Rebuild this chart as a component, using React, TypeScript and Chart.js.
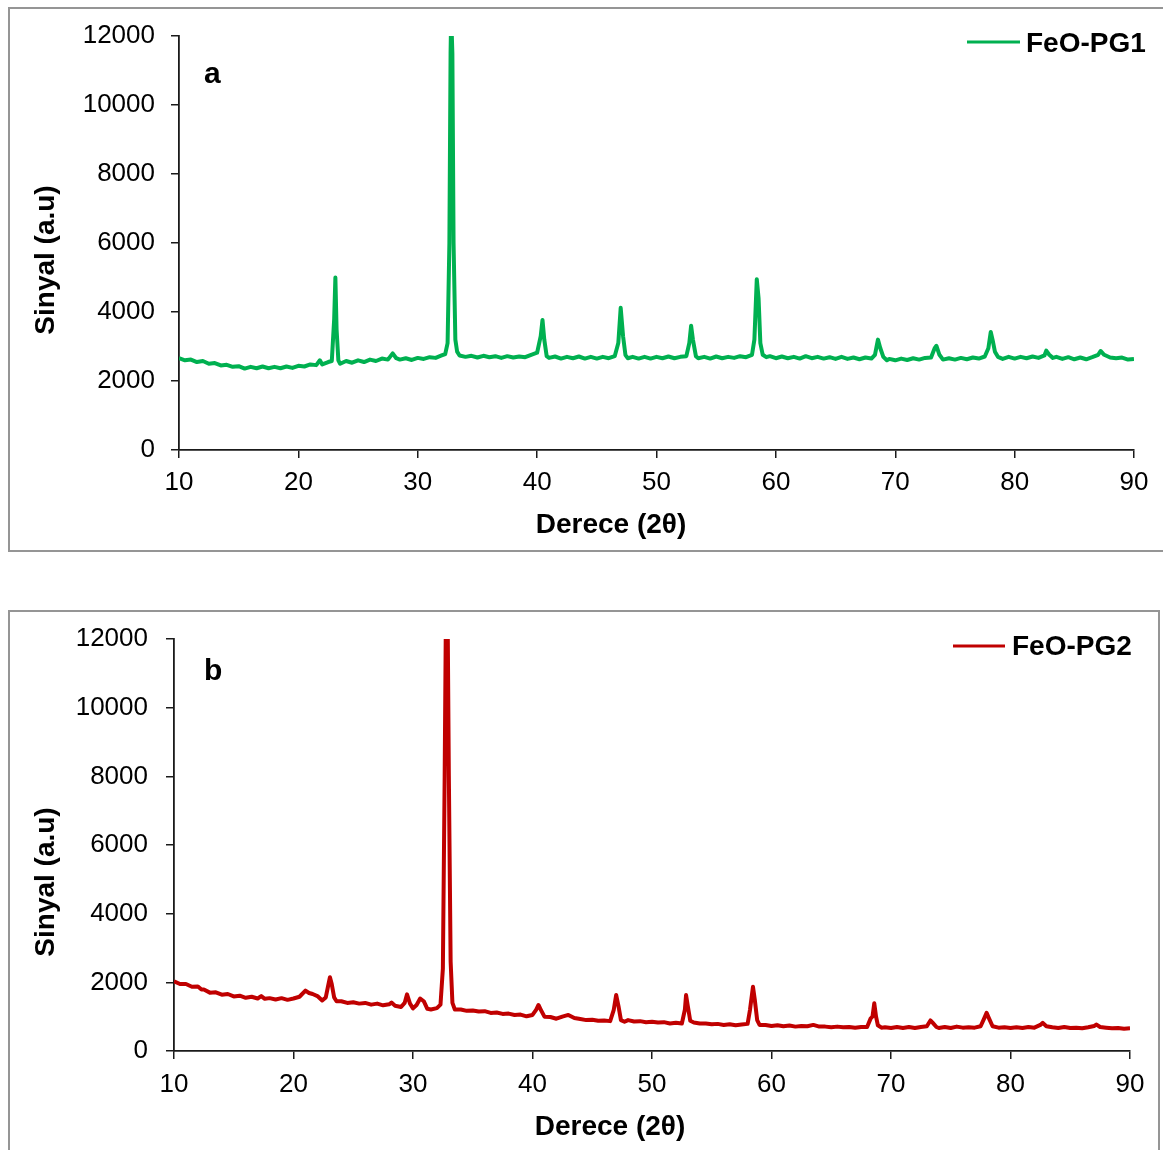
import React, { useEffect, useRef } from "react";
import { Chart, registerables } from "chart.js";

Chart.register(...registerables);

// ---------- data ----------
const panelLetters = ["a", "b"];
const seriesNames = ["FeO-PG1", "FeO-PG2"];
const seriesColors = ["#00B050", "#C00000"];
const xAxisTitle = "Derece (2θ)";
const yAxisTitle = "Sinyal (a.u)";
const xRange = [10, 90];
const xStep = 10;
const yRange = [0, 12000];
const yStep = 2000;

// [2θ, signal]
const pg1Scan: number[][] = [
  [10, 2660], [10.5, 2600], [11, 2620], [11.5, 2550], [12, 2580], [12.5, 2500], [13, 2520], [13.5, 2450],
  [14, 2470], [14.5, 2410], [15, 2430], [15.5, 2360], [16, 2410], [16.5, 2370], [17, 2420], [17.5, 2370],
  [18, 2410], [18.5, 2370], [19, 2420], [19.5, 2380], [20, 2440], [20.5, 2420], [21, 2480], [21.5, 2460],
  [21.8, 2600], [22, 2480], [22.5, 2550], [22.8, 2580], [23.0, 3800], [23.1, 5000], [23.2, 3500], [23.35, 2600],
  [23.5, 2500], [24, 2580], [24.5, 2530], [25, 2600], [25.5, 2550], [26, 2620], [26.5, 2580], [27, 2650],
  [27.5, 2620], [27.9, 2800], [28.2, 2660], [28.5, 2620], [29, 2660], [29.5, 2610], [30, 2670], [30.5, 2640],
  [31, 2690], [31.5, 2670], [32, 2740], [32.3, 2780], [32.5, 3100], [32.65, 6000], [32.75, 11500], [32.8, 12600],
  [32.9, 11500], [33.0, 6000], [33.15, 3200], [33.3, 2850], [33.5, 2740], [34, 2700], [34.5, 2730], [35, 2680],
  [35.5, 2730], [36, 2690], [36.5, 2720], [37, 2670], [37.5, 2720], [38, 2680], [38.5, 2710], [39, 2690],
  [39.5, 2760], [40, 2820], [40.3, 3300], [40.45, 3770], [40.6, 3200], [40.8, 2720], [41, 2670], [41.5, 2710],
  [42, 2650], [42.5, 2700], [43, 2660], [43.5, 2710], [44, 2650], [44.5, 2700], [45, 2650], [45.5, 2700],
  [46, 2660], [46.5, 2720], [46.8, 3100], [47.0, 4120], [47.2, 3300], [47.4, 2750], [47.6, 2660], [48, 2700],
  [48.5, 2650], [49, 2700], [49.5, 2650], [50, 2700], [50.5, 2660], [51, 2710], [51.5, 2660], [52, 2700],
  [52.5, 2720], [52.75, 3100], [52.9, 3600], [53.05, 3200], [53.3, 2720], [53.5, 2660], [54, 2700], [54.5, 2650],
  [55, 2710], [55.5, 2660], [56, 2700], [56.5, 2670], [57, 2720], [57.5, 2690], [58, 2760], [58.2, 3200],
  [58.4, 4950], [58.55, 4400], [58.7, 3100], [58.9, 2760], [59.2, 2690], [59.5, 2720], [60, 2660], [60.5, 2710],
  [61, 2660], [61.5, 2700], [62, 2650], [62.5, 2720], [63, 2660], [63.5, 2700], [64, 2650], [64.5, 2690],
  [65, 2640], [65.5, 2700], [66, 2640], [66.5, 2680], [67, 2630], [67.5, 2680], [68, 2650], [68.3, 2760],
  [68.55, 3200], [68.75, 2950], [69, 2700], [69.3, 2600], [69.5, 2640], [70, 2600], [70.5, 2650], [71, 2610],
  [71.5, 2660], [72, 2620], [72.5, 2670], [73, 2680], [73.3, 2950], [73.45, 3020], [73.7, 2760], [74, 2620],
  [74.5, 2660], [75, 2620], [75.5, 2670], [76, 2630], [76.5, 2680], [77, 2650], [77.5, 2710], [77.8, 2950],
  [78.0, 3420], [78.15, 3200], [78.35, 2850], [78.6, 2700], [79, 2640], [79.5, 2700], [80, 2650], [80.5, 2700],
  [81, 2660], [81.5, 2710], [82, 2670], [82.5, 2740], [82.65, 2880], [82.9, 2760], [83.2, 2670], [83.5, 2700],
  [84, 2640], [84.5, 2690], [85, 2630], [85.5, 2680], [86, 2630], [86.5, 2690], [87, 2760], [87.2, 2870],
  [87.5, 2760], [88, 2680], [88.5, 2660], [89, 2680], [89.5, 2620], [90, 2640],
];

const pg2Scan: number[][] = [
  [10, 2030], [10.5, 1950], [11, 1950], [11.5, 1870], [12, 1880], [12.3, 1790], [12.5, 1790], [13, 1700],
  [13.5, 1710], [14, 1640], [14.5, 1660], [15, 1590], [15.5, 1610], [16, 1550], [16.5, 1580], [17, 1530],
  [17.3, 1600], [17.6, 1520], [18, 1540], [18.5, 1500], [19, 1540], [19.5, 1490], [20, 1530], [20.5, 1580],
  [21, 1760], [21.3, 1690], [21.6, 1660], [22, 1600], [22.4, 1470], [22.7, 1560], [22.9, 1900], [23.05, 2150],
  [23.2, 1950], [23.4, 1560], [23.6, 1450], [24, 1450], [24.5, 1400], [25, 1420], [25.5, 1380], [26, 1400],
  [26.5, 1350], [27, 1380], [27.5, 1330], [28, 1360], [28.2, 1410], [28.5, 1320], [29, 1280], [29.3, 1400],
  [29.5, 1650], [29.75, 1380], [30, 1240], [30.3, 1340], [30.6, 1530], [30.9, 1450], [31.2, 1230], [31.5, 1210],
  [32, 1250], [32.3, 1350], [32.5, 2400], [32.65, 8000], [32.75, 12600], [32.9, 12600], [33.0, 8000], [33.15, 2600],
  [33.3, 1400], [33.5, 1210], [34, 1210], [34.5, 1170], [35, 1180], [35.5, 1150], [36, 1160], [36.5, 1110],
  [37, 1120], [37.5, 1080], [38, 1090], [38.5, 1050], [39, 1060], [39.5, 1010], [40, 1050], [40.3, 1200],
  [40.5, 1340], [40.7, 1200], [41, 1000], [41.5, 990], [42, 940], [42.5, 1000], [43, 1050], [43.5, 960],
  [44, 930], [44.5, 900], [45, 910], [45.5, 880], [46, 890], [46.5, 870], [46.8, 1200], [47.0, 1630],
  [47.2, 1300], [47.4, 900], [47.7, 850], [48, 900], [48.5, 860], [49, 870], [49.5, 840], [50, 850],
  [50.5, 830], [51, 840], [51.5, 800], [52, 820], [52.5, 800], [52.75, 1200], [52.85, 1630], [53.0, 1300],
  [53.2, 880], [53.5, 830], [54, 800], [54.5, 800], [55, 780], [55.5, 790], [56, 760], [56.5, 780],
  [57, 750], [57.5, 770], [58, 790], [58.2, 1200], [58.45, 1870], [58.6, 1500], [58.8, 900], [59, 760],
  [59.5, 760], [60, 730], [60.5, 750], [61, 720], [61.5, 740], [62, 710], [62.5, 730], [63, 720],
  [63.5, 760], [64, 710], [64.5, 710], [65, 690], [65.5, 710], [66, 690], [66.5, 700], [67, 680],
  [67.5, 700], [68, 700], [68.3, 950], [68.45, 1000], [68.6, 1390], [68.75, 1000], [68.9, 750], [69.2, 680],
  [69.5, 690], [70, 670], [70.5, 700], [71, 670], [71.5, 700], [72, 670], [72.5, 700], [73, 720],
  [73.3, 890], [73.5, 820], [73.8, 700], [74, 670], [74.5, 700], [75, 670], [75.5, 710], [76, 680],
  [76.5, 690], [77, 680], [77.5, 720], [77.8, 950], [78.0, 1110], [78.2, 950], [78.5, 720], [79, 680],
  [79.5, 690], [80, 670], [80.5, 690], [81, 670], [81.5, 700], [82, 680], [82.5, 760], [82.7, 820],
  [83, 720], [83.5, 690], [84, 670], [84.5, 700], [85, 670], [85.5, 680], [86, 660], [86.5, 690],
  [87, 730], [87.2, 770], [87.5, 700], [88, 680], [88.5, 660], [89, 670], [89.5, 650], [90, 660],
];

const scans = [pg1Scan, pg2Scan];

// ---------- layout ----------
const FONT = '"Liberation Sans", Arial, Helvetica, sans-serif';

type PanelLayout = {
  canvasTop: number;
  canvasHeight: number;
  areaLeft: number;
  areaRight: number;
  areaTop: number;
  areaBottom: number;
  yLabelPad: number;
  xLabelPad: number;
  letterX: number;
  letterY: number;
  legLineX1: number;
  legLineX2: number;
  legLineY: number;
  legTextX: number;
  legTextY: number;
  xTitleX: number;
  xTitleY: number;
  yTitleX: number;
  yTitleY: number;
};

const layouts: PanelLayout[] = [
  {
    canvasTop: 0, canvasHeight: 590,
    areaLeft: 179, areaRight: 1134, areaTop: 36, areaBottom: 450,
    yLabelPad: 16, xLabelPad: 9,
    letterX: 204, letterY: 83,
    legLineX1: 967, legLineX2: 1020, legLineY: 42, legTextX: 1026, legTextY: 52,
    xTitleX: 611, xTitleY: 533, yTitleX: 54, yTitleY: 260,
  },
  {
    canvasTop: 590, canvasHeight: 560,
    areaLeft: 174, areaRight: 1130, areaTop: 49, areaBottom: 461,
    yLabelPad: 18, xLabelPad: 10,
    letterX: 204, letterY: 90,
    legLineX1: 953, legLineX2: 1005, legLineY: 56, legTextX: 1012, legTextY: 65,
    xTitleX: 610, xTitleY: 545, yTitleX: 54, yTitleY: 292,
  },
];

const annotatePlugin = {
  id: "annotate",
  afterDraw(chart: any, _args: any, opts: any) {
    const ctx = chart.ctx as CanvasRenderingContext2D;
    const L: PanelLayout = opts.layout;
    ctx.save();
    ctx.fillStyle = "#000";
    ctx.textAlign = "left";
    ctx.textBaseline = "alphabetic";
    ctx.font = `bold 30px ${FONT}`;
    ctx.fillText(opts.letter, L.letterX, L.letterY);

    ctx.strokeStyle = opts.color;
    ctx.lineWidth = 3;
    ctx.beginPath();
    ctx.moveTo(L.legLineX1, L.legLineY);
    ctx.lineTo(L.legLineX2, L.legLineY);
    ctx.stroke();
    ctx.font = `bold 28px ${FONT}`;
    ctx.fillText(opts.name, L.legTextX, L.legTextY);

    ctx.font = `bold 28px ${FONT}`;
    ctx.textAlign = "center";
    ctx.fillText(xAxisTitle, L.xTitleX, L.xTitleY);

    ctx.translate(L.yTitleX, L.yTitleY);
    ctx.rotate(-Math.PI / 2);
    ctx.fillText(yAxisTitle, 0, 0);
    ctx.restore();
  },
};

function Panel({ index }: { index: number }) {
  const ref = useRef<HTMLCanvasElement | null>(null);
  const L = layouts[index];

  useEffect(() => {
    if (!ref.current) return;
    const points = scans[index].map((p) => ({ x: p[0], y: p[1] }));
    const axisColor = "#1a1a1a";
    const chart = new Chart(ref.current, {
      type: "line",
      data: {
        datasets: [
          {
            label: seriesNames[index],
            data: points,
            borderColor: seriesColors[index],
            backgroundColor: seriesColors[index],
            borderWidth: 4,
            pointRadius: 0,
            tension: 0,
            borderJoinStyle: "round",
          },
        ],
      },
      options: {
        animation: false,
        responsive: false,
        devicePixelRatio: 1,
        layout: {
          padding: {
            left: 0,
            top: L.areaTop,
            right: 1163 - L.areaRight,
            bottom: 0,
          },
        },
        plugins: {
          legend: { display: false },
          tooltip: { enabled: false },
          annotate: {
            layout: L,
            letter: panelLetters[index],
            name: seriesNames[index],
            color: seriesColors[index],
          },
        } as any,
        scales: {
          x: {
            type: "linear",
            min: xRange[0],
            max: xRange[1],
            afterFit: (s: any) => {
              s.height = L.canvasHeight - L.areaBottom;
            },
            ticks: {
              stepSize: xStep,
              color: "#000",
              padding: L.xLabelPad,
              font: { family: FONT, size: 26 },
              maxRotation: 0,
              callback: (v: any) => String(v),
            },
            grid: {
              drawOnChartArea: false,
              drawTicks: true,
              tickLength: 8,
              color: axisColor,
              lineWidth: 1.5,
            },
            border: { display: true, color: axisColor, width: 1.8 },
          },
          y: {
            type: "linear",
            min: yRange[0],
            max: yRange[1],
            afterFit: (s: any) => {
              s.width = L.areaLeft;
            },
            ticks: {
              stepSize: yStep,
              color: "#000",
              padding: L.yLabelPad,
              font: { family: FONT, size: 26 },
              callback: (v: any) => String(v),
            },
            grid: {
              drawOnChartArea: false,
              drawTicks: true,
              tickLength: 8,
              color: axisColor,
              lineWidth: 1.5,
            },
            border: { display: true, color: axisColor, width: 1.8 },
          },
        },
      },
      plugins: [annotatePlugin],
    });
    return () => chart.destroy();
  }, [index]);

  return (
    <canvas
      ref={ref}
      width={1163}
      height={L.canvasHeight}
      style={{
        position: "absolute",
        left: 0,
        top: L.canvasTop,
        width: 1163,
        height: L.canvasHeight,
      }}
    />
  );
}

export default function App() {
  const borderStyle = "2px solid #959595";
  return (
    <div
      style={{
        position: "absolute",
        left: 0,
        top: 0,
        width: 1163,
        height: 1150,
        overflow: "hidden",
        background: "#fff",
      }}
    >
      <div
        style={{
          position: "absolute",
          left: 8,
          top: 7,
          width: 1170,
          height: 545,
          border: borderStyle,
          boxSizing: "border-box",
        }}
      />
      <div
        style={{
          position: "absolute",
          left: 8,
          top: 610,
          width: 1152,
          height: 600,
          border: borderStyle,
          boxSizing: "border-box",
        }}
      />
      <Panel index={0} />
      <Panel index={1} />
    </div>
  );
}
